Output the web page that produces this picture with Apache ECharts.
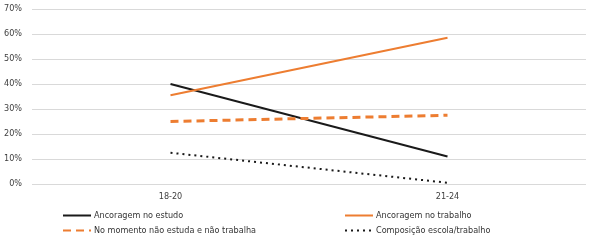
<!DOCTYPE html>
<html>
<head>
<meta charset="utf-8">
<script src="https://cdn.jsdelivr.net/npm/echarts@6/dist/echarts.min.js"></script>
<style>html,body{margin:0;padding:0;background:#fff}#c{width:589px;height:241px}</style>
</head>
<body>
<div id="c"></div>
<script>
const categories = ['18-20', '21-24'];
const estudo = [40, 11];
const trabalho = [35.5, 58.5];
const nemNem = [25, 27.5];
const composicao = [12.5, 0.5];
const names = ['Ancoragem no estudo', 'Ancoragem no trabalho', 'No momento não estuda e não trabalha', 'Composição escola/trabalho'];

const FONT = '"Liberation Sans Narrow", "DejaVu Sans Condensed", sans-serif';
const ORANGE = '#ED7D31';
const chart = echarts.init(document.getElementById('c'));
const legendBase = {
  orient: 'vertical', itemWidth: 28, itemHeight: 8, itemGap: 6,
  itemStyle: { opacity: 0 },
  textStyle: { fontFamily: FONT, fontSize: 9, color: '#333', padding: [0, 0, 0, -2] },
  padding: 0
};
chart.setOption({
  animation: false,
  grid: { left: 32, right: 3, top: 9, bottom: 57 },
  xAxis: {
    type: 'category', data: categories, boundaryGap: true,
    axisLine: { show: false }, axisTick: { show: false },
    axisLabel: { fontFamily: FONT, fontSize: 9, color: '#404040', margin: 8 }
  },
  yAxis: {
    type: 'value', min: 0, max: 70, interval: 10,
    axisLabel: { formatter: '{value}%', fontFamily: FONT, fontSize: 9, color: '#404040', margin: 10 },
    splitLine: { lineStyle: { color: '#d9d9d9', width: 1 } }
  },
  legend: [
    Object.assign({ left: 62, top: 211, data: [names[0], names[2]] }, legendBase),
    Object.assign({ left: 344, top: 211, data: [names[1], names[3]] }, legendBase)
  ],
  series: [
    { name: names[0], type: 'line', data: estudo, symbol: 'none', lineStyle: { color: '#1a1a1a', width: 2 }, itemStyle: { color: '#1a1a1a' } },
    { name: names[1], type: 'line', data: trabalho, symbol: 'none', lineStyle: { color: ORANGE, width: 2 }, itemStyle: { color: ORANGE } },
    { name: names[2], type: 'line', data: nemNem, symbol: 'none', lineStyle: { color: ORANGE, width: 3, type: [8, 5] }, itemStyle: { color: ORANGE } },
    { name: names[3], type: 'line', data: composicao, symbol: 'none', lineStyle: { color: '#1a1a1a', width: 2, type: [2, 4] }, itemStyle: { color: '#1a1a1a' } }
  ]
});
</script>
</body>
</html>
